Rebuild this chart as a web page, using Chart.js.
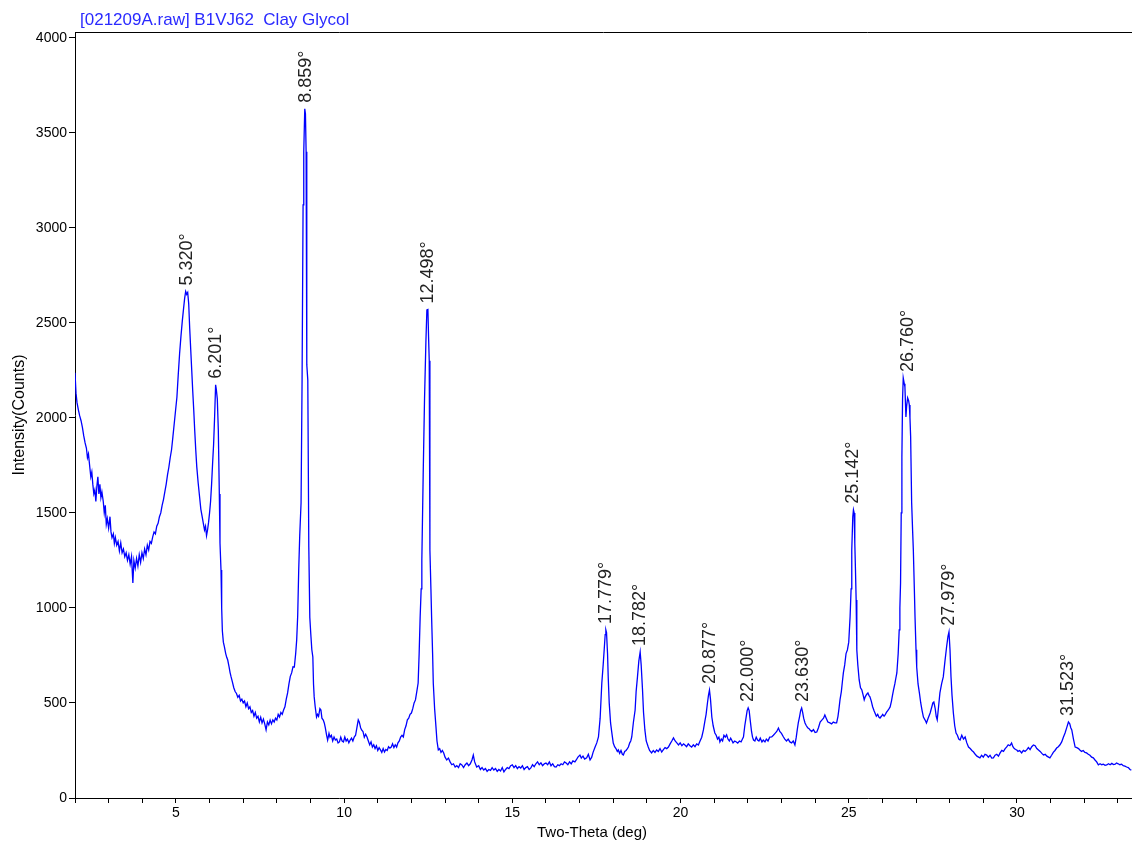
<!DOCTYPE html>
<html>
<head>
<meta charset="utf-8">
<title>021209A - Clay Glycol</title>
<script src="https://cdn.jsdelivr.net/npm/chart.js@4.4.1/dist/chart.umd.min.js"></script>
<style>
html, body { margin: 0; padding: 0; background: #fff; }
#wrap { width: 1132px; height: 841px; }
</style>
</head>
<body>
<div id="wrap"><canvas id="xrdChart" width="1132" height="841"></canvas></div>
<script>
// scan title
const scanTitle = "[021209A.raw] B1VJ62  Clay Glycol";

// two-theta (deg) / intensity (counts)
const twoTheta = [
  2.00, 2.03, 2.06, 2.10, 2.14, 2.18, 2.22, 2.26, 2.30, 2.34, 2.37, 2.40, 2.44, 2.47, 2.50, 2.53, 2.56, 2.59, 2.62, 2.65,
  2.68, 2.71, 2.74, 2.77, 2.80, 2.84, 2.87, 2.90, 2.93, 2.96, 3.00, 3.04, 3.07, 3.10, 3.14, 3.17, 3.20, 3.24, 3.28, 3.32,
  3.36, 3.40, 3.44, 3.48, 3.52, 3.56, 3.60, 3.64, 3.68, 3.72, 3.75, 3.79, 3.83, 3.87, 3.91, 3.95, 3.99, 4.03, 4.07, 4.11,
  4.15, 4.19, 4.23, 4.27, 4.31, 4.35, 4.39, 4.43, 4.47, 4.51, 4.55, 4.59, 4.63, 4.67, 4.71, 4.75, 4.79, 4.83, 4.87, 4.91,
  4.95, 4.99, 5.03, 5.07, 5.11, 5.15, 5.19, 5.23, 5.26, 5.29, 5.32, 5.35, 5.38, 5.41, 5.44, 5.47, 5.50, 5.53, 5.56, 5.59,
  5.62, 5.66, 5.70, 5.74, 5.78, 5.82, 5.85, 5.88, 5.91, 5.94, 5.97, 6.00, 6.03, 6.06, 6.09, 6.12, 6.15, 6.18, 6.20, 6.23,
  6.26, 6.29, 6.31, 6.34, 6.36, 6.38, 6.41, 6.44, 6.48, 6.51, 6.54, 6.58, 6.61, 6.64, 6.68, 6.72, 6.76, 6.80, 6.84, 6.88,
  6.92, 6.96, 7.00, 7.04, 7.08, 7.12, 7.16, 7.20, 7.24, 7.28, 7.32, 7.36, 7.40, 7.44, 7.48, 7.52, 7.56, 7.60, 7.64, 7.68,
  7.72, 7.76, 7.80, 7.84, 7.88, 7.92, 7.96, 8.00, 8.04, 8.08, 8.12, 8.16, 8.20, 8.24, 8.28, 8.32, 8.36, 8.40, 8.44, 8.48,
  8.52, 8.56, 8.59, 8.62, 8.65, 8.68, 8.72, 8.75, 8.78, 8.80, 8.83, 8.85, 8.87, 8.89, 8.92, 8.95, 8.98, 9.01, 9.04, 9.07,
  9.09, 9.11, 9.14, 9.18, 9.21, 9.24, 9.28, 9.31, 9.34, 9.38, 9.41, 9.44, 9.48, 9.51, 9.55, 9.58, 9.62, 9.66, 9.70, 9.74,
  9.78, 9.82, 9.86, 9.90, 9.94, 9.98, 10.02, 10.06, 10.10, 10.14, 10.18, 10.22, 10.26, 10.30, 10.34, 10.38, 10.42, 10.45, 10.49, 10.52,
  10.56, 10.60, 10.64, 10.68, 10.72, 10.76, 10.80, 10.84, 10.88, 10.92, 10.96, 11.00, 11.04, 11.08, 11.12, 11.16, 11.20, 11.24, 11.28, 11.32,
  11.36, 11.40, 11.44, 11.48, 11.52, 11.56, 11.60, 11.64, 11.68, 11.72, 11.76, 11.80, 11.84, 11.88, 11.92, 11.96, 12.00, 12.04, 12.08, 12.12,
  12.16, 12.20, 12.23, 12.26, 12.29, 12.31, 12.35, 12.39, 12.43, 12.46, 12.49, 12.51, 12.53, 12.55, 12.58, 12.60, 12.63, 12.65, 12.69, 12.73,
  12.76, 12.80, 12.84, 12.88, 12.92, 12.96, 13.00, 13.05, 13.10, 13.15, 13.20, 13.25, 13.30, 13.35, 13.40, 13.45, 13.50, 13.55, 13.60, 13.65,
  13.70, 13.75, 13.80, 13.84, 13.88, 13.94, 14.00, 14.05, 14.10, 14.15, 14.20, 14.25, 14.30, 14.35, 14.40, 14.45, 14.50, 14.55, 14.60, 14.65,
  14.70, 14.75, 14.80, 14.85, 14.90, 14.95, 15.00, 15.05, 15.10, 15.15, 15.20, 15.25, 15.30, 15.35, 15.40, 15.45, 15.50, 15.55, 15.60, 15.65,
  15.70, 15.75, 15.80, 15.85, 15.90, 15.95, 16.00, 16.05, 16.10, 16.15, 16.20, 16.25, 16.30, 16.35, 16.40, 16.45, 16.50, 16.55, 16.60, 16.65,
  16.70, 16.75, 16.80, 16.86, 16.90, 16.95, 17.01, 17.05, 17.10, 17.15, 17.21, 17.26, 17.31, 17.36, 17.40, 17.46, 17.51, 17.56, 17.61, 17.66,
  17.70, 17.73, 17.76, 17.78, 17.80, 17.83, 17.85, 17.88, 17.92, 17.96, 18.00, 18.04, 18.08, 18.12, 18.15, 18.19, 18.23, 18.27, 18.30, 18.34,
  18.38, 18.42, 18.45, 18.49, 18.52, 18.55, 18.60, 18.65, 18.68, 18.72, 18.76, 18.80, 18.83, 18.87, 18.90, 18.94, 18.98, 19.04, 19.08, 19.14,
  19.19, 19.24, 19.29, 19.34, 19.39, 19.44, 19.49, 19.54, 19.59, 19.64, 19.69, 19.74, 19.79, 19.84, 19.89, 19.94, 19.99, 20.04, 20.09, 20.13,
  20.18, 20.23, 20.28, 20.33, 20.38, 20.43, 20.48, 20.53, 20.58, 20.63, 20.68, 20.72, 20.76, 20.80, 20.83, 20.86, 20.89, 20.93, 20.97, 21.02,
  21.06, 21.10, 21.14, 21.17, 21.21, 21.25, 21.29, 21.33, 21.37, 21.41, 21.45, 21.49, 21.52, 21.56, 21.61, 21.66, 21.70, 21.75, 21.80, 21.84,
  21.87, 21.91, 21.95, 21.98, 22.01, 22.04, 22.07, 22.11, 22.14, 22.17, 22.21, 22.25, 22.29, 22.33, 22.37, 22.42, 22.46, 22.51, 22.55, 22.60,
  22.65, 22.71, 22.76, 22.81, 22.86, 22.91, 22.95, 23.00, 23.06, 23.10, 23.15, 23.20, 23.25, 23.30, 23.35, 23.40, 23.44, 23.47, 23.50, 23.54,
  23.57, 23.60, 23.63, 23.66, 23.70, 23.74, 23.78, 23.82, 23.85, 23.90, 23.95, 24.00, 24.05, 24.10, 24.15, 24.20, 24.25, 24.29, 24.33, 24.38,
  24.44, 24.49, 24.54, 24.59, 24.64, 24.68, 24.71, 24.74, 24.78, 24.81, 24.84, 24.88, 24.92, 24.96, 25.00, 25.04, 25.07, 25.09, 25.12, 25.14,
  25.16, 25.18, 25.20, 25.22, 25.24, 25.27, 25.31, 25.35, 25.39, 25.43, 25.46, 25.49, 25.53, 25.57, 25.60, 25.63, 25.67, 25.71, 25.75, 25.78,
  25.82, 25.86, 25.90, 25.93, 25.97, 26.01, 26.05, 26.08, 26.12, 26.16, 26.20, 26.23, 26.27, 26.30, 26.33, 26.37, 26.40, 26.43, 26.47, 26.50,
  26.52, 26.54, 26.56, 26.58, 26.60, 26.62, 26.65, 26.67, 26.70, 26.72, 26.75, 26.78, 26.80, 26.82, 26.84, 26.87, 26.90, 26.92, 26.95, 26.97,
  27.00, 27.02, 27.06, 27.10, 27.14, 27.18, 27.22, 27.27, 27.31, 27.36, 27.42, 27.47, 27.50, 27.53, 27.57, 27.60, 27.63, 27.67, 27.71, 27.76,
  27.81, 27.86, 27.91, 27.95, 27.98, 28.01, 28.04, 28.07, 28.11, 28.15, 28.19, 28.23, 28.27, 28.31, 28.36, 28.41, 28.46, 28.51, 28.56, 28.61,
  28.66, 28.71, 28.76, 28.81, 28.86, 28.90, 28.95, 29.00, 29.05, 29.10, 29.15, 29.20, 29.25, 29.30, 29.35, 29.40, 29.45, 29.50, 29.55, 29.60,
  29.65, 29.69, 29.74, 29.79, 29.84, 29.88, 29.92, 29.96, 29.99, 30.03, 30.08, 30.14, 30.19, 30.24, 30.29, 30.34, 30.39, 30.44, 30.49, 30.54,
  30.59, 30.64, 30.69, 30.74, 30.79, 30.84, 30.89, 30.94, 30.98, 31.03, 31.08, 31.13, 31.18, 31.23, 31.28, 31.33, 31.38, 31.43, 31.48, 31.53,
  31.57, 31.60, 31.63, 31.68, 31.73, 31.78, 31.83, 31.87, 31.92, 31.97, 32.02, 32.07, 32.12, 32.17, 32.22, 32.27, 32.32, 32.37, 32.42, 32.47,
  32.52, 32.57, 32.62, 32.67, 32.72, 32.77, 32.82, 32.87, 32.92, 32.96, 33.01, 33.06, 33.11, 33.16, 33.21, 33.26, 33.31, 33.36, 33.40
];

const counts = [
  2237, 2130, 2080, 2042, 2010, 1985, 1950, 1905, 1868, 1840, 1790, 1810, 1740, 1690, 1715, 1650, 1600, 1621, 1560, 1640,
  1690, 1600, 1650, 1580, 1610, 1560, 1500, 1540, 1440, 1470, 1420, 1480, 1400, 1370, 1390, 1340, 1370, 1330, 1350, 1300,
  1342, 1290, 1310, 1270, 1290, 1250, 1280, 1230, 1270, 1131, 1250, 1210, 1260, 1220, 1280, 1240, 1290, 1260, 1310, 1280,
  1330, 1305, 1350, 1340, 1374, 1400, 1390, 1430, 1445, 1480, 1500, 1540, 1570, 1610, 1650, 1700, 1740, 1790, 1832, 1900,
  1970, 2040, 2110, 2230, 2340, 2430, 2510, 2580, 2630, 2665, 2650, 2660, 2600, 2470, 2360, 2250, 2140, 2040, 1930, 1830,
  1742, 1660, 1590, 1520, 1480, 1440, 1410, 1430, 1380, 1410, 1450, 1500, 1560, 1650, 1760, 1860, 2005, 2174, 2150, 2100,
  1937, 1600, 1342, 1200, 1000, 880, 820, 797, 760, 740, 726, 690, 660, 637, 610, 580, 560, 550, 530, 540,
  510, 520, 500, 510, 480, 500, 470, 480, 450, 460, 430, 450, 420, 430, 400, 425, 395, 415, 390, 358,
  400, 385, 410, 390, 411, 400, 420, 410, 440, 426, 450, 440, 463, 480, 520, 553, 600, 640, 658, 690,
  689, 760, 832, 960, 1200, 1380, 1553, 2200, 3121, 3400, 3626, 3600, 3400, 2280, 2200, 1321, 950, 860, 780, 742,
  600, 532, 480, 426, 440, 430, 470, 463, 420, 410, 395, 370, 330, 305, 340, 320, 330, 300, 321, 305,
  310, 290, 295, 320, 300, 295, 321, 300, 310, 290, 305, 315, 300, 321, 330, 370, 411, 400, 370, 358,
  350, 320, 335, 321, 300, 280, 295, 268, 280, 260, 275, 250, 265, 253, 240, 260, 242, 255, 250, 270,
  262, 268, 285, 265, 280, 268, 290, 300, 321, 330, 321, 360, 380, 411, 420, 440, 447, 470, 500, 516,
  560, 605, 760, 953, 1100, 1253, 1700, 2100, 2395, 2568, 2570, 2426, 2300, 1305, 1100, 953, 760, 605, 470, 374,
  300, 253, 260, 240, 250, 237, 215, 200, 210, 190, 175, 180, 163, 170, 160, 180, 174, 160, 175, 184,
  170, 180, 200, 226, 190, 163, 170, 150, 160, 147, 155, 140, 150, 145, 160, 147, 155, 140, 150, 142,
  160, 137, 150, 160, 155, 170, 174, 160, 170, 155, 165, 158, 170, 150, 160, 165, 150, 158, 175, 165,
  180, 190, 175, 185, 170, 180, 184, 175, 190, 170, 180, 165, 163, 175, 170, 180, 175, 190, 184, 175,
  190, 180, 195, 190, 200, 215, 226, 210, 220, 205, 211, 230, 200, 215, 240, 268, 290, 321, 420, 605,
  700, 779, 860, 884, 870, 760, 637, 500, 395, 340, 289, 270, 260, 245, 253, 235, 250, 230, 226, 245,
  250, 260, 268, 290, 300, 321, 400, 463, 560, 637, 720, 768, 700, 568, 450, 358, 300, 268, 250, 237,
  250, 240, 253, 245, 260, 242, 255, 265, 260, 268, 285, 300, 316, 300, 290, 279, 290, 275, 285, 279,
  270, 285, 275, 268, 280, 270, 285, 279, 300, 320, 358, 400, 440, 500, 540, 568, 520, 426, 380, 342,
  330, 310, 320, 295, 310, 300, 330, 320, 332, 310, 300, 315, 305, 290, 300, 295, 289, 300, 295, 310,
  321, 380, 426, 460, 474, 460, 411, 350, 320, 305, 300, 320, 305, 300, 315, 295, 305, 295, 310, 300,
  320, 321, 330, 340, 350, 368, 350, 340, 321, 310, 300, 310, 295, 290, 300, 279, 320, 360, 395, 430,
  460, 474, 450, 420, 395, 380, 370, 365, 358, 350, 360, 345, 347, 370, 400, 410, 420, 437, 420, 400,
  395, 390, 400, 395, 395, 430, 470, 516, 560, 610, 658, 700, 760, 779, 820, 953, 1100, 1305, 1480, 1516,
  1500, 1342, 1200, 1042, 779, 700, 621, 580, 568, 540, 516, 532, 545, 553, 540, 532, 510, 480, 460, 447,
  430, 440, 425, 421, 430, 440, 430, 437, 450, 460, 470, 479, 510, 540, 568, 600, 630, 658, 760, 884,
  1000, 1131, 1500, 1795, 2100, 2210, 2180, 2163, 2005, 2060, 2105, 2090, 2068, 2000, 1900, 1553, 1400, 1305, 1100, 953,
  780, 689, 600, 553, 500, 460, 426, 410, 395, 420, 447, 480, 500, 505, 470, 430, 411, 480, 553, 600,
  637, 720, 797, 850, 874, 780, 637, 540, 447, 380, 342, 330, 310, 305, 330, 310, 321, 290, 268, 260,
  250, 242, 230, 220, 215, 211, 225, 215, 230, 226, 215, 225, 210, 211, 225, 230, 220, 237, 250, 245,
  260, 268, 280, 275, 289, 270, 260, 255, 253, 245, 250, 237, 250, 245, 253, 265, 255, 270, 279, 275,
  260, 253, 245, 235, 226, 230, 220, 215, 211, 225, 240, 250, 263, 270, 280, 295, 320, 342, 370, 400,
  390, 370, 358, 310, 268, 265, 260, 253, 245, 250, 240, 237, 230, 225, 215, 211, 200, 190, 174, 180,
  175, 178, 172, 174, 180, 175, 182, 176, 178, 184, 180, 175, 178, 170, 168, 163, 160, 150, 147
];

// labelled reflections (deg)
const peakAngles = [5.320, 6.201, 8.859, 12.498, 17.779, 18.782, 20.877, 22.000, 23.630, 25.142, 26.760, 27.979, 31.523];

// axis ranges / tick values
const xMin = 2, xMax = 33.42;
const xTickValues = [2, 3, 4, 5, 6, 7, 8, 9, 10, 11, 12, 13, 14, 15, 16, 17, 18, 19, 20, 21, 22, 23, 24, 25, 26, 27, 28, 29, 30, 31, 32, 33];
const xTickLabels = ["", "", "", "5", "", "", "", "", "10", "", "", "", "", "15", "", "", "", "", "20", "", "", "", "", "25", "", "", "", "", "30", "", "", ""];
const yMin = 0, yMax = 4030;
const yTickValues = [0, 500, 1000, 1500, 2000, 2500, 3000, 3500, 4000];

const points = twoTheta.map((t, i) => ({ x: t, y: counts[i] }));

// peak height near a labelled angle
function peakHeight(angle) {
  let best = 0;
  twoTheta.forEach((t, i) => {
    if (Math.abs(t - angle) <= 0.15 && counts[i] > best) best = counts[i];
  });
  return best;
}

const FONT = "'Liberation Sans', Arial, sans-serif";

const xrdDecor = {
  id: "xrdDecor",
  afterDatasetsDraw(chart) {
    const ctx = chart.ctx;
    const area = chart.chartArea;
    const xs = chart.scales.x;
    const ys = chart.scales.y;

    // frame top line
    ctx.save();
    ctx.strokeStyle = "#000";
    ctx.lineWidth = 1;
    ctx.beginPath();
    ctx.moveTo(area.left, Math.round(area.top) + 0.5);
    ctx.lineTo(area.right, Math.round(area.top) + 0.5);
    ctx.stroke();
    ctx.restore();

    // scan title
    ctx.save();
    ctx.fillStyle = "#2a2aff";
    ctx.font = "17px " + FONT;
    ctx.textBaseline = "alphabetic";
    ctx.textAlign = "left";
    ctx.fillText(scanTitle, 80, 25);
    ctx.restore();

    // y axis title
    ctx.save();
    ctx.fillStyle = "#000";
    ctx.font = "16px " + FONT;
    ctx.textAlign = "center";
    ctx.textBaseline = "middle";
    ctx.translate(20, 415);
    ctx.rotate(-Math.PI / 2);
    ctx.fillText("Intensity(Counts)", 0, 0);
    ctx.restore();

    // x axis title
    ctx.save();
    ctx.fillStyle = "#000";
    ctx.font = "15px " + FONT;
    ctx.textAlign = "center";
    ctx.textBaseline = "middle";
    ctx.fillText("Two-Theta (deg)", 592, 833);
    ctx.restore();

    // peak labels
    ctx.save();
    ctx.fillStyle = "#222";
    ctx.font = "18px " + FONT;
    ctx.textBaseline = "middle";
    ctx.textAlign = "left";
    peakAngles.forEach(a => {
      const px = xs.getPixelForValue(a);
      const py = ys.getPixelForValue(peakHeight(a));
      ctx.save();
      ctx.translate(px, py - 6);
      ctx.rotate(-Math.PI / 2);
      ctx.fillText(a.toFixed(3) + "\u00B0", 0, 0);
      ctx.restore();
    });
    ctx.restore();
  }
};

document.addEventListener("DOMContentLoaded", function () {

  const canvas = document.getElementById("xrdChart");

  if (!canvas) return;

  const tickFont = { family: FONT, size: 14 };

  new Chart(canvas, {
    type: "line",
    data: {
      datasets: [
        {
          label: "Clay Glycol",
          data: points,
          borderColor: "#0000ff",
          borderWidth: 1.3,
          pointRadius: 0,
          tension: 0,
          fill: false
        }
      ]
    },
    options: {
      responsive: false,
      animation: false,
      devicePixelRatio: 1,
      layout: { padding: { top: 32, right: 0, left: 0, bottom: 0 } },
      plugins: {
        legend: { display: false },
        tooltip: { enabled: false }
      },
      scales: {
        x: {
          type: "linear",
          min: xMin,
          max: xMax,
          afterFit: s => { s.height = 43; },
          afterBuildTicks: s => { s.ticks = xTickValues.map(v => ({ value: v })); },
          border: { display: true, color: "#000", width: 1 },
          grid: { drawOnChartArea: false, drawTicks: true, tickLength: 5, color: "#000", tickColor: "#000" },
          ticks: {
            autoSkip: false,
            maxRotation: 0,
            padding: 2,
            color: "#000",
            font: tickFont,
            callback: (v, i) => xTickLabels[i]
          },
          title: { display: false }
        },
        y: {
          min: yMin,
          max: yMax,
          afterFit: s => { s.width = 75; },
          afterBuildTicks: s => { s.ticks = yTickValues.map(v => ({ value: v })); },
          border: { display: true, color: "#000", width: 1 },
          grid: { drawOnChartArea: false, drawTicks: true, tickLength: 6, color: "#000", tickColor: "#000" },
          ticks: {
            padding: 2,
            color: "#000",
            font: tickFont,
            callback: v => String(v)
          },
          title: { display: false }
        }
      }
    },
    plugins: [xrdDecor]
  });

});
</script>
</body>
</html>
